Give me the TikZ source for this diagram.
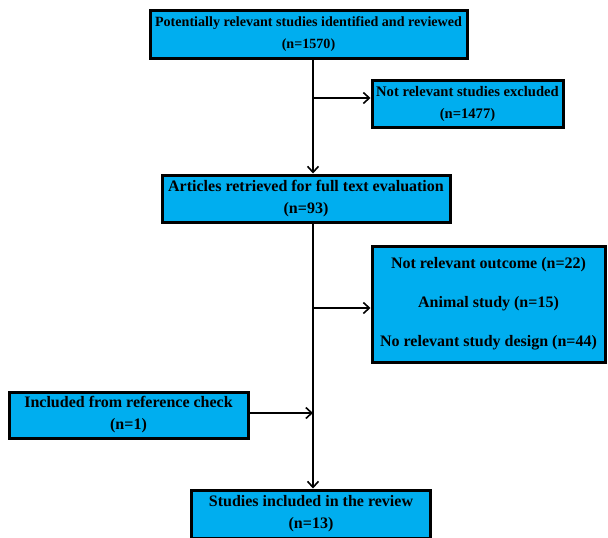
\documentclass[tikz,border=0pt]{standalone}
\usepackage{fontspec}
\setmainfont{Liberation Serif}
\usepackage{tikz}
\usetikzlibrary{arrows.meta}
\definecolor{boxblue}{RGB}{0,174,239}

\begin{document}
\begin{tikzpicture}[x=1pt,y=-1pt,
  flowbox/.style={rectangle, draw=black, line width=3pt, fill=boxblue, align=center,
    font=\bfseries\fontsize{16}{22}\selectfont, inner sep=0pt},
  flowline/.style={line width=1.6pt, -{Straight Barb[length=6pt,width=11pt,line width=1.6pt]}}]
\useasboundingbox (0,0) rectangle (608,538);
% Boxes
\node[flowbox, font=\bfseries\fontsize{14.1}{22}\selectfont, minimum width=317pt, minimum height=48pt] (ident) at (308.5,34) {Potentially relevant studies identified and reviewed\\(n=1570)};
\node[flowbox, font=\bfseries\fontsize{14.6}{22}\selectfont, minimum width=191pt, minimum height=47pt] (excl) at (467.5,103.5) {Not relevant studies excluded\\(n=1477)};
\node[flowbox, minimum width=288pt, minimum height=47pt] (full) at (306,198.5) {Articles retrieved for full text evaluation\\(n=93)};
\node[flowbox, minimum width=233pt, minimum height=116pt] (reasons) at (488.5,304) {Not relevant outcome (n=22)\\[17pt]Animal study (n=15)\\[17pt]No relevant study design (n=44)};
\node[flowbox, minimum width=239pt, minimum height=46pt] (refcheck) at (128.5,415) {Included from reference check\\(n=1)};
\node[flowbox, minimum width=239pt, minimum height=48pt] (incl) at (311,514) {Studies included in the review\\(n=13)};
% Junctions
\coordinate (j1) at (313,98);
\coordinate (j2) at (313,308);
\coordinate (j3) at (313,413);
% Connectors
\draw[flowline] (j1 |- ident.south) -- (j1 |- full.north);
\draw[flowline] (j1) -- (excl.west |- j1);
\draw[flowline] (j2 |- full.south) -- (j2 |- incl.north);
\draw[flowline] (j2) -- (reasons.west |- j2);
\draw[flowline] (refcheck.east |- j3) -- (j3);
\end{tikzpicture}
\end{document}
